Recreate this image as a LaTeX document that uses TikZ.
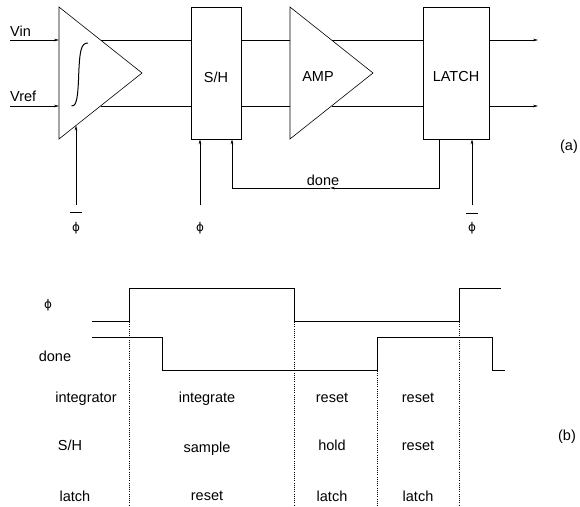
\documentclass[tikz,border=0pt]{standalone}
\usepackage{fontspec}
\setmainfont{Liberation Sans}
\newfontfamily\phifont{DejaVu Sans}
\newcommand{\myphi}{{\phifont\fontsize{12}{14}\selectfont ϕ}}
\usetikzlibrary{arrows.meta}
\begin{document}
\begin{tikzpicture}[x=1pt,y=-1pt,
  wire/.style={line width=0.6pt},
  arr/.style={wire,-{Stealth[length=5pt,width=2.6pt]}},
  blk/.style={draw,line width=0.6pt,rectangle,inner sep=0pt},
  lbl/.style={inner sep=0pt,font=\fontsize{14.5}{16}\selectfont},
  dots/.style={line width=0.5pt,dash pattern=on 1pt off 1.2pt},
  bar/.style={line width=0.6pt}]
\useasboundingbox (0,0) rectangle (580,506);

% ---------- (a) block diagram ----------
% integrator triangle
\coordinate (itl) at (59,7);
\coordinate (ibl) at (59,139);
\coordinate (itip) at (142,73);
\draw[wire] (itl) -- (itip) -- (ibl) -- cycle;
\draw[line width=1pt] (71.5,106) .. controls (75,106) and (77.5,104) .. (78.5,80)
  .. controls (79.5,50) and (81,43) .. (88,43);

% S/H box
\node[blk,minimum width=50pt,minimum height=132pt] (sh) at (216,73) {};
\node[lbl] (shl) at (216,77) {S/H};

% AMP triangle
\coordinate (atl) at (290,7);
\coordinate (abl) at (290,139);
\coordinate (atip) at (373,73);
\draw[wire] (atl) -- (atip) -- (abl) -- cycle;
\node[lbl] (ampl) at (318,77) {AMP};

% LATCH box
\node[blk,minimum width=66pt,minimum height=132pt] (la) at (456,73) {};
\node[lbl] (lal) at (456,77) {LATCH};

% inputs
\coordinate (vin) at (10,40);
\coordinate (vref) at (10,106);
\coordinate (iin1) at (59,40);
\coordinate (iin2) at (59,106);
\draw[arr] (vin) -- (iin1);
\draw[arr] (vref) -- (iin2);
\node[lbl,anchor=base west] (vinl) at (10,36) {Vin};
\node[lbl,anchor=base west] (vrefl) at (10,101.5) {Vref};

% integrator -> S/H
\coordinate (io1) at (100.5,40);
\coordinate (io2) at (100.5,106);
\draw[wire] (io1) -- (sh.west |- io1);
\draw[wire] (io2) -- (sh.west |- io2);
% S/H -> AMP
\draw[wire] (sh.east |- io1) -- (atl |- io1);
\draw[wire] (sh.east |- io2) -- (atl |- io2);
% AMP -> LATCH
\coordinate (ao1) at (332,40);
\coordinate (ao2) at (332,106);
\draw[wire] (ao1) -- (la.west |- ao1);
\draw[wire] (ao2) -- (la.west |- ao2);
% outputs
\coordinate (out1) at (538,40);
\coordinate (out2) at (538,106);
\draw[arr] (la.east |- out1) -- (out1);
\draw[arr] (la.east |- out2) -- (out2);

% clock inputs
\coordinate (c1) at (76,205);
\coordinate (c1e) at (76,125.5);
\draw[arr] (c1) -- (c1e);
\node[lbl] (p1) at (76,228) {\myphi};
\draw[bar] (70,212) -- (82,212);

\coordinate (c2) at (200,205);
\draw[arr] (c2) -- (c2 |- sh.south);
\node[lbl] (p2) at (200,228) {\myphi};

\coordinate (c3) at (472,205);
\draw[arr] (c3) -- (c3 |- la.south);
\node[lbl] (p3) at (472,228) {\myphi};
\draw[bar] (466,213) -- (478,213);

% done feedback
\coordinate (d1) at (439,188);
\coordinate (dm) at (330,188);
\coordinate (d2) at (232,188);
\draw[arr] (d1 |- la.south) -- (d1) -- (dm);
\draw[arr] (dm) -- (d2) -- (d2 |- sh.south);
\node[lbl,anchor=base] (donel) at (323,185) {done};

\node[lbl] (la_) at (569,147) {(a)};

% ---------- (b) timing diagram ----------
\node[lbl] (phil) at (48,305) {\myphi};
\node[lbl,anchor=base] (donet) at (55,361.5) {done};

\draw[wire] (92,321) -- (129,321) -- (129,288) -- (294,288) -- (294,321)
  -- (459,321) -- (459,288) -- (501,288);
\draw[wire] (92,337) -- (162,337) -- (162,370) -- (377,370) -- (377,337)
  -- (492,337) -- (492,370) -- (505,370);

\draw[dots] (129,322) -- (129,506);
\draw[dots] (294,322) -- (294,506);
\draw[dots] (377,371) -- (377,506);
\draw[dots] (459,322) -- (459,506);

\node[lbl,anchor=base] at (86,402.5) {integrator};
\node[lbl,anchor=base] at (207,402.5) {integrate};
\node[lbl,anchor=base] at (332,402.5) {reset};
\node[lbl,anchor=base] at (418,402.5) {reset};

\node[lbl,anchor=base] at (70,450) {S/H};
\node[lbl,anchor=base] at (207,452.5) {sample};
\node[lbl,anchor=base] at (332,450) {hold};
\node[lbl,anchor=base] at (418,450) {reset};

\node[lbl,anchor=base] at (75,501.5) {latch};
\node[lbl,anchor=base] at (207,500) {reset};
\node[lbl,anchor=base] at (332,501.5) {latch};
\node[lbl,anchor=base] at (418,501.5) {latch};

\node[lbl] (lb_) at (567,437) {(b)};
\end{tikzpicture}
\end{document}
